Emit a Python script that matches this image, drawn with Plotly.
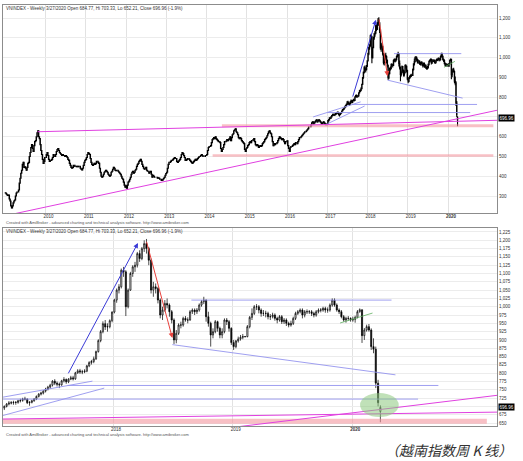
import pandas as pd
import plotly.graph_objects as go

# ------------------------------------------------------------------ data
# VN-Index weekly closes (Friday of each week)
closes_2009 = [315, 310, 305, 303, 305, 285, 275, 250, 240, 250,
               265, 275, 280, 300, 315, 320, 320, 330, 365, 390,
               415, 430, 460, 470, 445, 448, 440, 430, 445, 465,
               470, 500, 520, 545, 560, 540, 525, 555, 575, 580,
               600, 620, 630, 600, 590, 560, 530, 510, 485, 465,
               475, 495]
closes_2010 = [495, 510, 520, 505, 485, 475, 480, 480, 485, 495, 510, 500, 500,
               510, 525, 535, 540, 530, 520, 515, 510, 505, 510, 505, 505, 500,
               505, 500, 495, 485, 480, 465, 455, 445, 440, 445, 455, 455, 450,
               450, 448, 450, 448, 450, 450, 440, 435, 432, 440, 455, 470, 480, 485]
closes_2011 = [495, 510, 520, 515, 510, 490, 470, 460, 455, 460, 465, 460,
               465, 475, 475, 470, 465, 440, 420, 400, 395, 400, 410, 420, 425,
               430, 425, 420, 410, 405, 400, 405, 420, 425, 435, 445, 440, 430, 428,
               430, 430, 425, 420, 415, 410, 400, 390, 385, 370, 355, 345, 352]
closes_2012 = [340, 355, 370, 375, 385, 395, 410, 420, 425, 415, 420, 430, 435,
               450, 460, 465, 475, 480, 485, 475, 460, 450, 440, 435, 440, 445,
               430, 425, 425, 415, 420, 425, 410, 395, 405, 400, 395, 395, 395,
               395, 390, 392, 390, 385, 385, 378, 378, 385, 390, 395, 405, 414]
closes_2013 = [420, 440, 460, 470, 470, 475, 480, 480, 485, 490, 495, 490, 490,
               475, 470, 475, 480, 485, 495, 510, 520, 515, 505, 495, 480, 480,
               485, 490, 490, 485, 480, 475, 470, 465, 470, 475, 480, 485, 480,
               485, 490, 495, 500, 500, 505, 510, 505, 500, 500, 500, 505, 505]
closes_2014 = [510, 530, 545, 550, 550, 555, 570, 585, 590, 595, 590, 600, 590,
               585, 580, 575, 575, 570, 540, 525, 535, 545, 560, 575, 575, 578,
               585, 580, 585, 590, 600, 580, 595, 610, 615, 630, 635, 640, 625,
               620, 610, 595, 590, 595, 590, 580, 575, 570, 565, 535, 525, 540]
closes_2015 = [545, 555, 560, 570, 575, 570, 580, 580, 585, 590, 575, 560, 555,
               560, 555, 545, 550, 555, 550, 555, 565, 570, 575, 585, 590, 595,
               605, 615, 625, 630, 620, 615, 600, 575, 555, 565, 560, 565, 565,
               570, 580, 590, 600, 595, 590, 585, 590, 585, 575, 565, 575, 575]
closes_2016 = [579, 555, 540, 525, 545, 550, 550, 555, 560, 565, 560, 570, 570,
               565, 575, 585, 595, 595, 600, 605, 610, 615, 620, 625, 625, 630,
               635, 640, 650, 650, 650, 660, 670, 675, 665, 670, 675, 680, 685, 675,
               680, 685, 680, 675, 670, 665, 670, 675, 670, 665, 660, 660, 665]

close_2017 = [681, 684, 695, 695, 700, 707, 710, 711, 712, 712, 717, 718, 722,
              722, 711, 712, 717, 722, 730, 737, 740, 746, 752, 758, 764, 776,
              770, 767, 765, 777, 781, 774, 782, 786, 783, 801, 807, 804, 804,
              806, 822, 832, 835, 843, 865, 898, 925, 949, 939, 940, 958, 984]
high_2017 = [684, 690, 697, 699, 703, 710, 716, 716, 717, 716, 720, 723, 726,
             729, 724, 716, 720, 725, 733, 740, 744, 749, 756, 762, 768, 779,
             782, 775, 772, 780, 788, 784, 785, 792, 792, 804, 812, 813, 810,
             812, 825, 836, 840, 850, 868, 902, 930, 956, 960, 950, 962, 986]
low_2017 = [662, 676, 682, 690, 689, 697, 703, 706, 705, 705, 708, 712, 714,
            718, 707, 702, 709, 714, 719, 727, 733, 736, 742, 748, 753, 760,
            764, 760, 755, 762, 772, 768, 770, 779, 778, 780, 798, 798, 797,
            800, 803, 818, 826, 830, 840, 862, 893, 920, 930, 925, 935, 953]

close_2018 = [1020, 1050, 1060, 1110, 1105, 1000, 1050, 1100, 1120, 1125, 1160, 1145, 1175,
              1190, 1175, 1140, 1050, 1060, 1055, 1020, 975, 990, 1010, 1005, 985, 960,
              900, 920, 945, 945, 965, 960, 960, 985, 990, 985, 990, 1005, 1015,
              1020, 970, 950, 915, 925, 955, 935, 915, 925, 960, 955, 935, 892]
high_2018 = [1024, 1055, 1068, 1115, 1120, 1110, 1055, 1105, 1125, 1135, 1165, 1170, 1180,
             1200, 1204, 1180, 1145, 1075, 1070, 1060, 1025, 1000, 1020, 1025, 1010, 990,
             965, 930, 950, 955, 970, 972, 968, 990, 995, 995, 996, 1010, 1020,
             1030, 1022, 985, 955, 935, 960, 958, 940, 935, 965, 966, 960, 938]
low_2018 = [980, 1012, 1040, 1055, 1090, 972, 995, 1048, 1090, 1105, 1118, 1135, 1140,
            1165, 1160, 1125, 1040, 1030, 1040, 1010, 965, 960, 985, 995, 970, 950,
            888, 890, 915, 935, 940, 955, 950, 958, 978, 975, 978, 985, 1000,
            1008, 955, 940, 880, 905, 920, 925, 905, 905, 920, 945, 925, 885]

close_2019 = [880, 897, 903, 908, 910, 910, 940, 968, 980, 1000, 1000, 990, 980,
              980, 980, 970, 970, 975, 965, 960, 970, 955, 960, 950, 945, 950,
              965, 980, 985, 990, 975, 985, 985, 985, 980, 975, 985, 990, 990,
              995, 990, 990, 1005, 1020, 1005, 990, 985, 970, 960, 965, 965, 960]
high_2019 = [900, 900, 910, 915, 918, 912, 945, 972, 995, 1005, 1008, 1005, 995,
             990, 988, 985, 978, 982, 980, 970, 975, 975, 966, 965, 955, 958,
             970, 985, 990, 995, 995, 990, 992, 990, 990, 985, 990, 995, 996,
             1000, 1000, 998, 1010, 1025, 1025, 1010, 995, 990, 975, 970, 972, 968]
low_2019 = [870, 875, 892, 898, 902, 908, 908, 935, 960, 975, 990, 980, 970,
            972, 968, 962, 960, 965, 958, 950, 955, 948, 948, 942, 938, 940,
            945, 960, 975, 980, 965, 968, 978, 978, 972, 968, 970, 980, 983,
            985, 982, 982, 985, 1000, 1000, 985, 978, 965, 955, 952, 958, 955]

close_2020 = [962, 968, 985, 991, 913, 930, 940, 930, 880, 872, 770, 711, 696.96]
high_2020 = [970, 973, 990, 995, 991, 936, 946, 948, 935, 905, 880, 780, 703.33]
low_2020 = [955, 952, 965, 982, 891, 900, 925, 925, 870, 860, 755, 700, 652.21]

first_open_2009 = 315.62
last_week_open = 684.77
last_change_pct = -1.9

year_ticks = list(range(2010, 2021))
top_price_ticks = list(range(300, 1201, 100))
bottom_price_ticks = list(range(650, 1226, 25))
hidden_tick = 700   # covered by the last-price tag

# hand-drawn study lines: (date0, value0, date1, value1)
magenta_lines = [("2009-03-14", 209, "2021-04-01", 735),
                 ("2009-10-20", 625, "2021-03-31", 683)]
pink_bands = [("2014-05-20", "2021-02-15", 648, 663),
              ("2014-02-25", "2021-02-15", 498, 511)]
blue_lines = [("2018-08-28", 1020, "2020-04-30", 1020),
              ("2018-07-01", 886, "2020-05-12", 795),
              ("2017-08-15", 763, "2020-09-20", 763),
              ("2017-01-01", 722, "2020-07-20", 722),
              ("2016-08-25", 700, "2017-10-30", 776),
              ("2017-01-01", 665, "2017-12-05", 755)]
green_lines = [("2019-11-25", 951, "2020-03-03", 981)]
up_arrow = ("2017-08-15", 795, "2018-03-18", 1192)
down_arrow = ("2018-04-12", 1200, "2018-07-01", 906)
highlight_ellipse = ("2020-01-25", 668, "2020-05-22", 740)

# ------------------------------------------------------------------ build OHLC
dates, opens, highs, lows, closes = [], [], [], [], []
prev = first_open_2009


def add_year(year, c, h=None, l=None, last_open=None):
    global prev
    d = pd.date_range(f"{year}-01-01", periods=len(c), freq="W-FRI")
    for i, (di, ci) in enumerate(zip(d, c)):
        o = prev
        if last_open is not None and i == len(c) - 1:
            o = last_open
        hi = max(h[i], o, ci) if h else max(o, ci)
        lo = min(l[i], o, ci) if l else min(o, ci)
        dates.append(di); opens.append(o); highs.append(hi); lows.append(lo); closes.append(ci)
        prev = ci


for yr, c in [(2009, closes_2009), (2010, closes_2010), (2011, closes_2011), (2012, closes_2012),
              (2013, closes_2013), (2014, closes_2014), (2015, closes_2015), (2016, closes_2016)]:
    add_year(yr, c)
add_year(2017, close_2017, high_2017, low_2017)
add_year(2018, close_2018, high_2018, low_2018)
add_year(2019, close_2019, high_2019, low_2019)
add_year(2020, close_2020, high_2020, low_2020, last_open=last_week_open)

df = pd.DataFrame(dict(d=dates, o=opens, h=highs, l=lows, c=closes))
dfb = df[df.d >= "2017-01-01"]

# ------------------------------------------------------------------ figure
W, H = 523, 461
FONT = "Liberation Sans, Arial, sans-serif"


def candle_style(w):
    return dict(
        increasing=dict(line=dict(color="black", width=w), fillcolor="white"),
        decreasing=dict(line=dict(color="black", width=w), fillcolor="black"),
        hoverinfo="skip", showlegend=False, whiskerwidth=0)


fig = go.Figure()
fig.add_trace(go.Candlestick(x=df.d, open=df.o, high=df.h, low=df.l, close=df.c,
                             xaxis="x", yaxis="y", **candle_style(1.1)))
fig.add_trace(go.Candlestick(x=dfb.d, open=dfb.o, high=dfb.h, low=dfb.l, close=dfb.c,
                             xaxis="x2", yaxis="y2", **candle_style(0.7)))

xdom = [3 / W, 497 / W]
ydom_top = [1 - 213 / H, 1 - 5 / H]
ydom_bot = [1 - 426 / H, 1 - 228 / H]

tickvals = [f"{y}-01-01" for y in year_ticks]
ticktext = [f"<b>{y}</b>" if y == 2020 else str(y) for y in year_ticks]


def price_text(v):
    return "" if v == hidden_tick else f"{v:,}"


xcommon = dict(type="date", tickvals=tickvals, ticktext=ticktext, showgrid=True,
               gridcolor="#e2e2e2", gridwidth=1, showline=True, mirror=True,
               linecolor="#8c8c8c", linewidth=1, ticks="", ticklabelshift=3,
               ticklabelstandoff=-1,
               tickfont=dict(size=4.5, color="#333"), rangeslider=dict(visible=False),
               zeroline=False, fixedrange=True)
ycommon = dict(side="right", showgrid=True, gridcolor="#ececec", gridwidth=1,
               showline=True, mirror=True, linecolor="#8c8c8c", linewidth=1,
               ticks="", tickfont=dict(size=4.5, color="#333"), zeroline=False,
               fixedrange=True)

fig.update_layout(
    width=W, height=H, margin=dict(l=0, r=0, t=0, b=0, autoexpand=False),
    paper_bgcolor="white", plot_bgcolor="white", font=dict(family=FONT),
    showlegend=False,
    xaxis=dict(domain=xdom, anchor="y", range=["2008-12-11", "2021-03-20"], **xcommon),
    yaxis=dict(domain=ydom_top, anchor="x", range=[214, 1266], tickvals=top_price_ticks,
               ticktext=[price_text(v) for v in top_price_ticks], **ycommon),
    xaxis2=dict(domain=xdom, anchor="y2", range=["2017-01-30", "2021-03-18"], **xcommon),
    yaxis2=dict(domain=ydom_bot, anchor="x2", range=[641, 1237], tickvals=bottom_price_ticks,
                ticktext=[price_text(v) for v in bottom_price_ticks], **ycommon),
)

shapes, annotations = [], []
for xr, yr in [("x", "y"), ("x2", "y2")]:
    for x0, x1, y0, y1 in pink_bands:
        shapes.append(dict(type="rect", xref=xr, yref=yr, x0=x0, x1=x1, y0=y0, y1=y1,
                           fillcolor="rgba(243,150,158,0.6)", line=dict(width=0), layer="above"))
    for x0, y0, x1, y1 in magenta_lines:
        shapes.append(dict(type="line", xref=xr, yref=yr, x0=x0, y0=y0, x1=x1, y1=y1,
                           line=dict(color="#e040e0", width=1), layer="above"))
    for x0, y0, x1, y1 in blue_lines:
        shapes.append(dict(type="line", xref=xr, yref=yr, x0=x0, y0=y0, x1=x1, y1=y1,
                           line=dict(color="#9494ee", width=0.9), layer="above"))
    for x0, y0, x1, y1 in green_lines:
        shapes.append(dict(type="line", xref=xr, yref=yr, x0=x0, y0=y0, x1=x1, y1=y1,
                           line=dict(color="#60b060", width=0.8), layer="above"))
    for (tx, ty, hx, hy), col in [(up_arrow, "#3a3ad6"), (down_arrow, "#e8413c")]:
        annotations.append(dict(x=hx, y=hy, ax=tx, ay=ty, xref=xr, yref=yr, axref=xr, ayref=yr,
                                text="", showarrow=True, arrowhead=2, arrowsize=1,
                                arrowwidth=1, arrowcolor=col))
    annotations.append(dict(x=498 / W, y=closes[-1], xref="paper", yref=yr, xanchor="left",
                            yanchor="middle", text=f"{closes[-1]:.2f}", showarrow=False,
                            bgcolor="black", font=dict(size=4.5, color="white"), borderpad=0.6))

ex0, ey0, ex1, ey1 = highlight_ellipse
shapes.append(dict(type="circle", xref="x2", yref="y2", x0=ex0, x1=ex1, y0=ey0, y1=ey1,
                   fillcolor="rgba(140,200,125,0.55)", line=dict(width=0), layer="above"))

last = df.d.iloc[-1]
title = (f"VNINDEX - Weekly {last.month}/{last.day}/{last.year} "
         f"Open {opens[-1]:.2f}, Hi {highs[-1]:.2f}, Lo {lows[-1]:.2f}, "
         f"Close {closes[-1]:.2f} ({last_change_pct:+.1f}%)")
credit = ("Created with AmiBroker - advanced charting and technical analysis software. "
          "http://www.amibroker.com")
for ypx in (8, 231):
    annotations.append(dict(x=4 / W, y=1 - ypx / H, xref="paper", yref="paper", xanchor="left",
                            yanchor="middle", text=title, showarrow=False,
                            font=dict(size=4.5, color="#333")))
for ypx in (222, 434):
    annotations.append(dict(x=4 / W, y=1 - ypx / H, xref="paper", yref="paper", xanchor="left",
                            yanchor="middle", text=credit, showarrow=False,
                            font=dict(size=4, color="#555")))
annotations.append(dict(x=448 / W, y=1 - 450 / H, xref="paper", yref="paper", xanchor="center",
                        yanchor="middle", text="（越南指数周 K 线）", showarrow=False,
                        font=dict(size=14, color="#333", family="Noto Sans CJK SC", style="italic")))

fig.update_layout(shapes=shapes, annotations=annotations)
fig.write_html("out.html", config={"displayModeBar": False, "staticPlot": True},
               post_script="document.body.style.margin='0px';")
